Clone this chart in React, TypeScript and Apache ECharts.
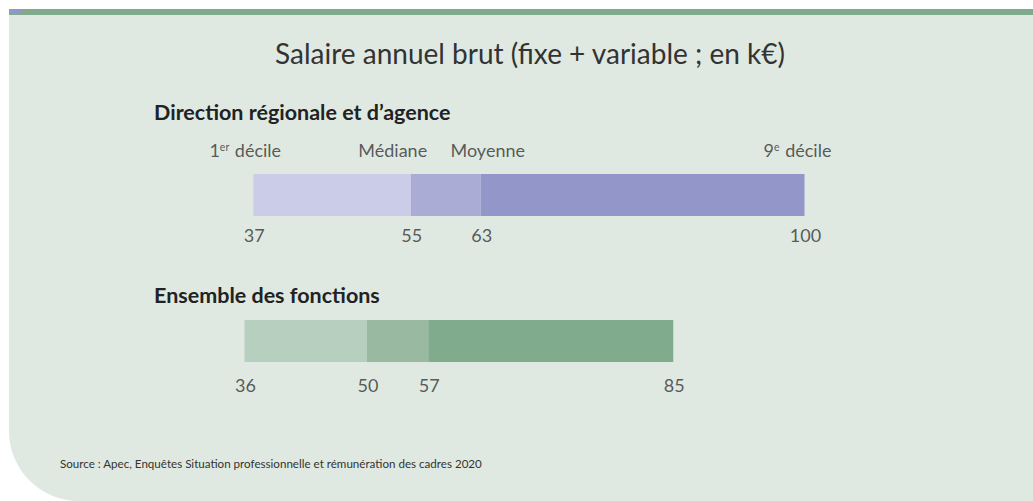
import React, { useEffect, useRef } from "react";
import * as echarts from "echarts";

const title = "Salaire annuel brut (fixe + variable ; en k€)";
const categories = ["Direction régionale et d’agence", "Ensemble des fonctions"];
const decile1 = [37, 36];
const median = [55, 50];
const mean = [63, 57];
const decile9 = [100, 85];
const headerLabels = ["1{sup|er} décile", "Médiane", "Moyenne", "9{sup|e} décile"];
const source = "Source : Apec, Enquêtes Situation professionnelle et rémunération des cadres 2020";

const lightColors = ["#cbcde8", "#b7cfbe"];
const midColors = ["#aaacd6", "#99b9a0"];
const darkColors = ["#9396c9", "#81ab8d"];

const FONT = "Lato, 'Open Sans', sans-serif";

export default function App() {
  const ref = useRef<HTMLDivElement>(null);
  useEffect(() => {
    if (!ref.current) return;
    const chart = echarts.init(ref.current, undefined, { renderer: "svg" });

    const seg = (vals: number[], colors: string[]) =>
      vals.map((v, i) => ({ value: v, itemStyle: { color: colors[i] } }));

    const rowValues = (i: number) => [decile1[i], median[i], mean[i], decile9[i]];

    const headerOffsets = [-8, -18, 7, -7];

    chart.setOption({
      animation: false,
      textStyle: { fontFamily: FONT },
      grid: { left: 192, width: 700, top: 122, height: 292 },
      xAxis: { type: "value", min: 30, max: 110, show: false },
      yAxis: { type: "category", data: categories, inverse: true, show: false },
      graphic: [
        {
          type: "rect",
          z: -10,
          shape: { x: 9, y: 9, width: 1024, height: 492, r: [0, 0, 0, 70] },
          style: { fill: "#dfe9e1" },
        },
        {
          type: "rect",
          z: -9,
          shape: { x: 9, y: 9, width: 1024, height: 6 },
          style: { fill: "#80aa8b" },
        },
        {
          type: "rect",
          z: -8,
          shape: { x: 9, y: 10, width: 13, height: 3 },
          style: { fill: "#9396c9" },
        },
        {
          type: "text",
          x: 530,
          y: 53,
          style: {
            text: title,
            fontFamily: FONT,
            fontSize: 28,
            fill: "#333333",
            textAlign: "center",
            textVerticalAlign: "middle",
          },
        },
        {
          type: "text",
          x: 154,
          y: 112,
          style: {
            text: categories[0],
            fontFamily: FONT,
            fontSize: 21.5,
            fontWeight: "bold",
            fill: "#222222",
            textAlign: "left",
            textVerticalAlign: "middle",
          },
        },
        {
          type: "text",
          x: 154,
          y: 295,
          style: {
            text: categories[1],
            fontFamily: FONT,
            fontSize: 21.5,
            fontWeight: "bold",
            fill: "#222222",
            textAlign: "left",
            textVerticalAlign: "middle",
          },
        },
        {
          type: "text",
          x: 60,
          y: 463,
          style: {
            text: source,
            fontFamily: FONT,
            fontSize: 11.6,
            fill: "#333333",
            textAlign: "left",
            textVerticalAlign: "middle",
          },
        },
      ],
      series: [
        {
          type: "bar",
          stack: "s",
          barWidth: 42,
          silent: true,
          itemStyle: { color: "transparent" },
          data: decile1,
        },
        {
          type: "bar",
          stack: "s",
          barWidth: 42,
          data: seg(median.map((m, i) => m - decile1[i]), lightColors),
        },
        {
          type: "bar",
          stack: "s",
          barWidth: 42,
          data: seg(mean.map((m, i) => m - median[i]), midColors),
        },
        {
          type: "bar",
          stack: "s",
          barWidth: 42,
          data: seg(decile9.map((d, i) => d - mean[i]), darkColors),
        },
        ...[0, 1].map((row) => ({
          type: "scatter",
          symbolSize: 0,
          z: 5,
          data: rowValues(row).map((v) => [v, row]),
          label: {
            show: true,
            position: "inside",
            offset: [1, row === 0 ? 40 : 44],
            formatter: (p: any) => String(p.value[0]),
            fontFamily: FONT,
            fontSize: 18,
            color: "#333333",
          },
        })),
        {
          type: "scatter",
          symbolSize: 0,
          z: 5,
          data: rowValues(0).map((v, i) => ({
            value: [v, 0],
            label: { offset: [headerOffsets[i], -45] },
          })),
          label: {
            show: true,
            position: "inside",
            formatter: (p: any) => headerLabels[p.dataIndex],
            fontFamily: FONT,
            fontSize: 18,
            color: "#333333",
            rich: {
              sup: {
                fontFamily: FONT,
                fontSize: 10.5,
                color: "#333333",
                verticalAlign: "top",
                padding: [0, 1, 0, 0],
              },
            },
          },
        },
      ],
    });
    return () => chart.dispose();
  }, []);

  return (
    <div
      ref={ref}
      style={{ position: "absolute", left: 0, top: 0, width: 1033, height: 501, background: "#ffffff" }}
    />
  );
}
